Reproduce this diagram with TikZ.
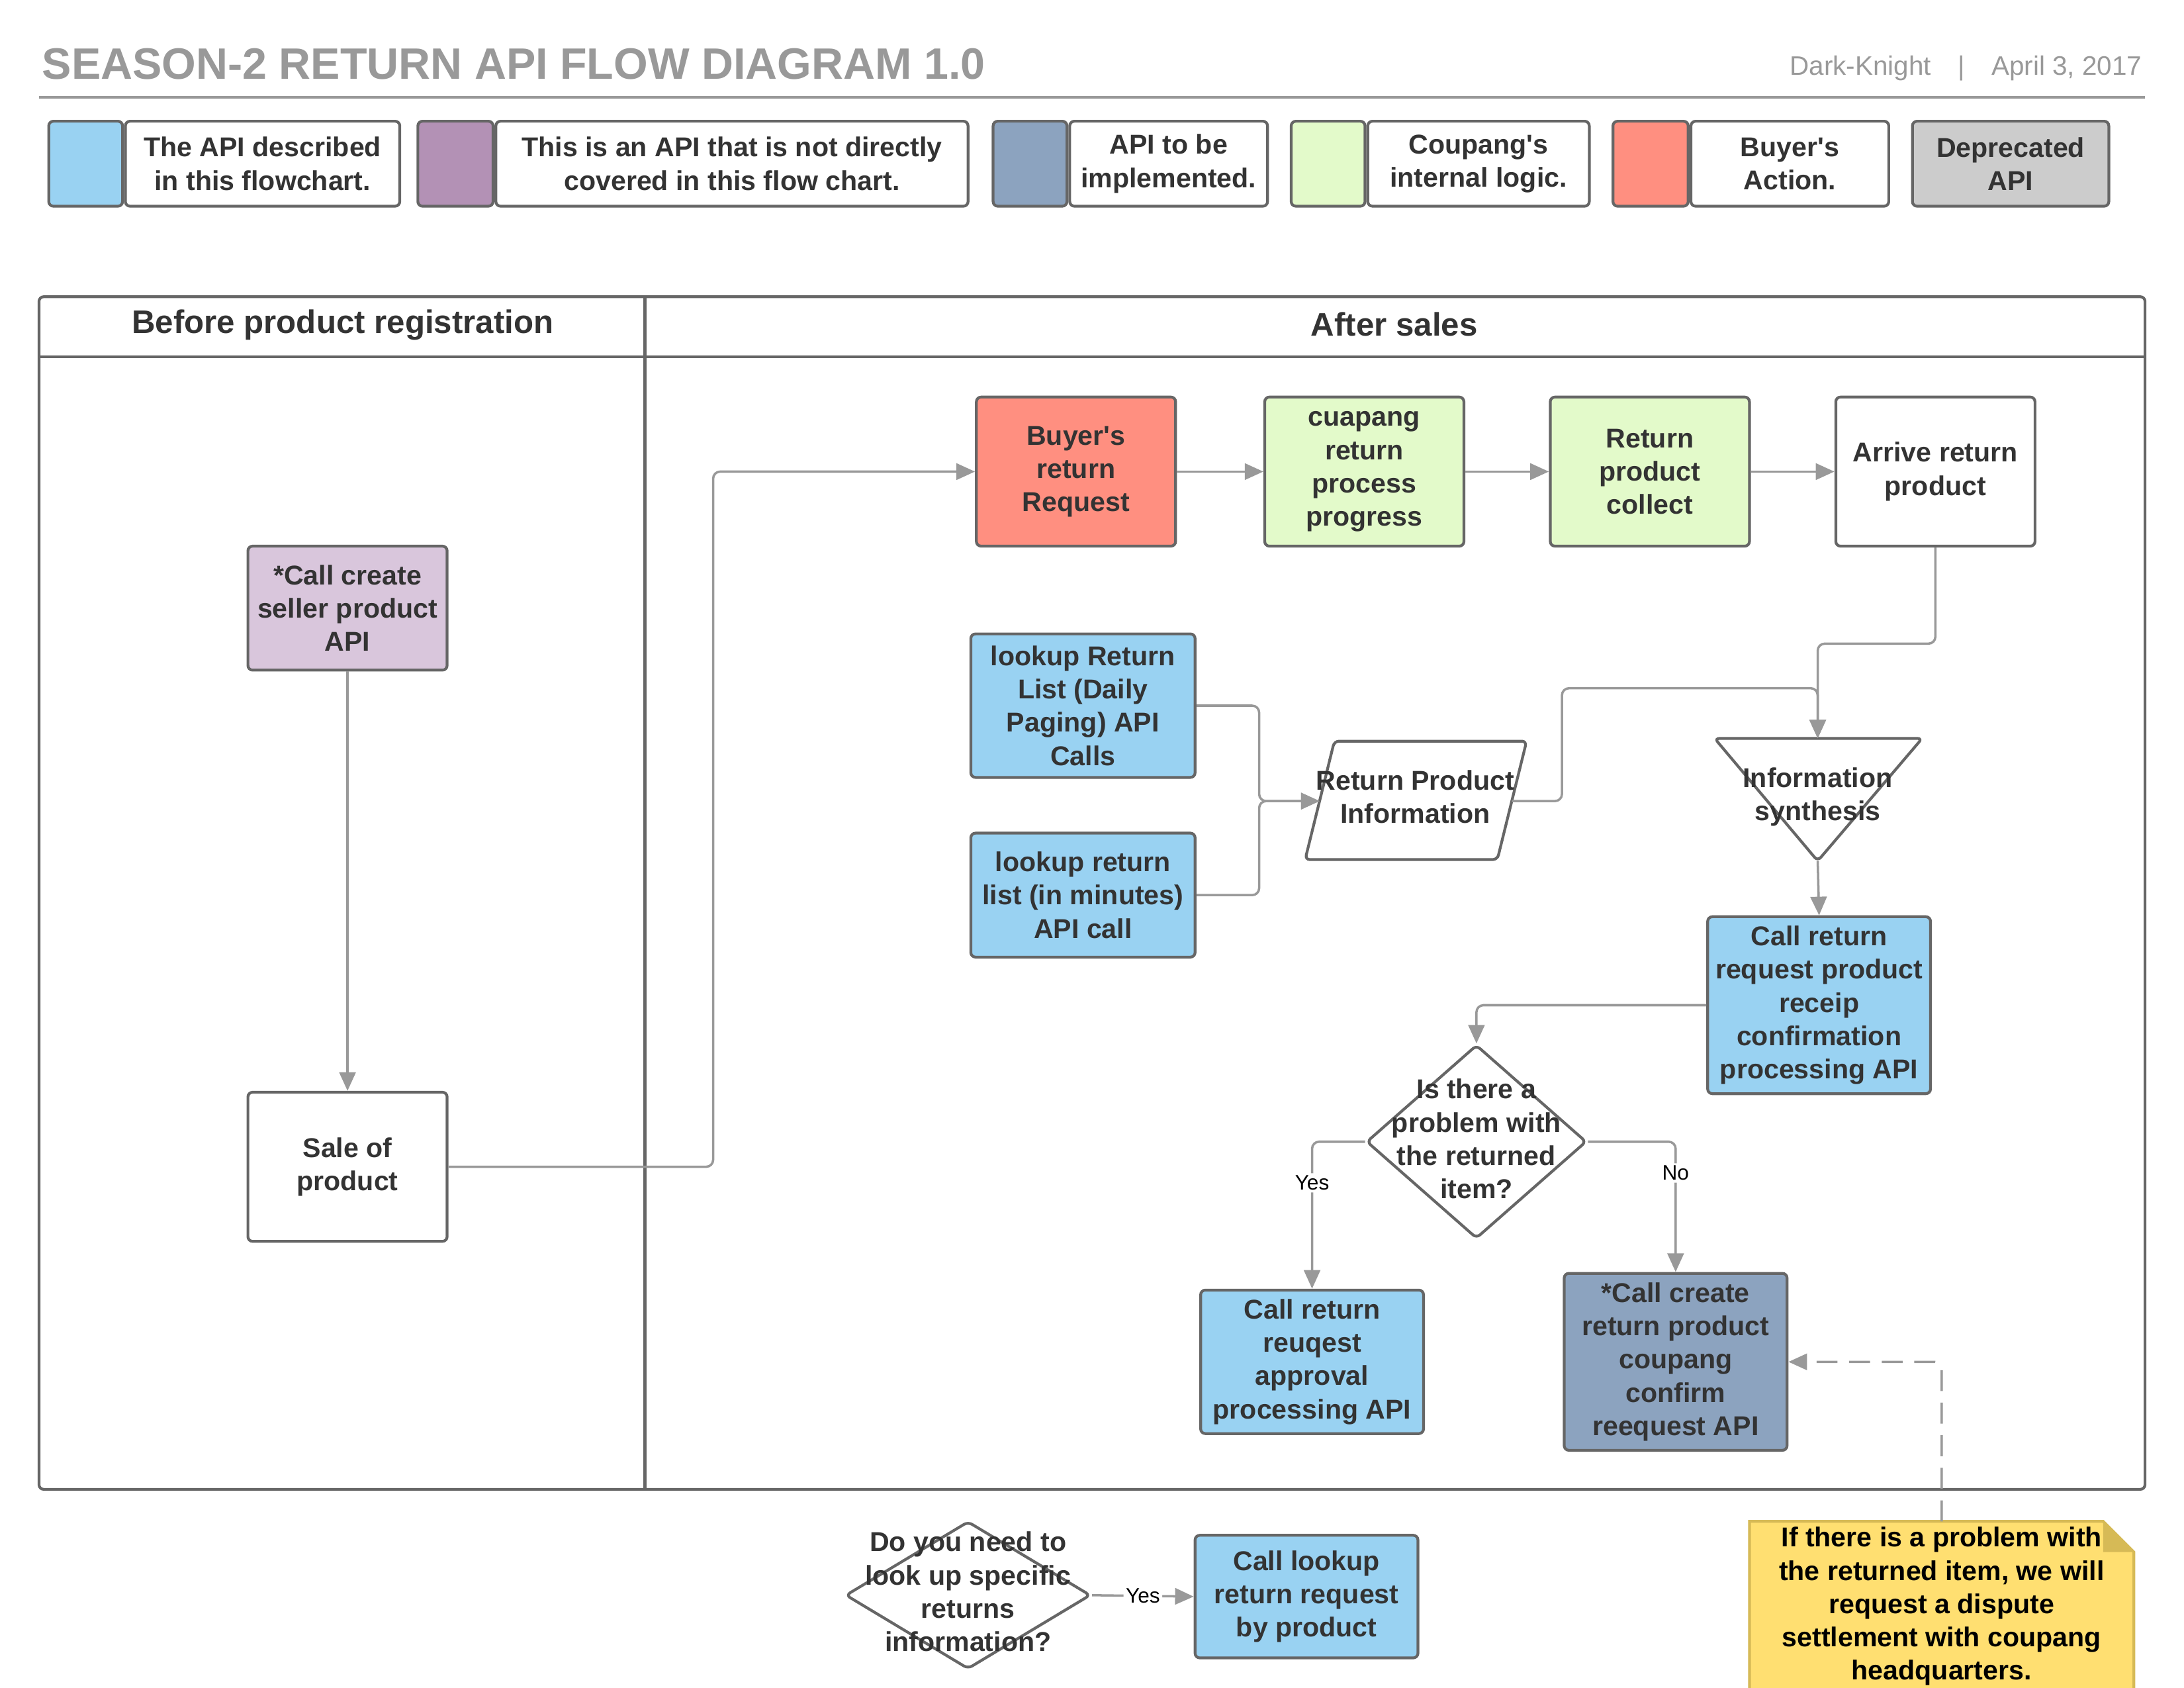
\documentclass[tikz,border=0pt]{standalone}
\usepackage{fontspec}
\setmainfont{Liberation Sans}
\usetikzlibrary{shapes.geometric,arrows.meta}

\newcommand{\dpx}{0.021046cm}
\newcommand{\boxfont}{\fontsize{11.7}{14.3}\selectfont\bfseries}
\definecolor{apiblue}{HTML}{99D2F2}
\definecolor{otherpurple}{HTML}{B391B5}
\definecolor{sellerpurple}{HTML}{D9C6DC}
\definecolor{todoslate}{HTML}{8CA3BF}
\definecolor{logicgreen}{HTML}{E3FACA}
\definecolor{buyerred}{HTML}{FF8F80}
\definecolor{deprgray}{HTML}{CCCCCC}
\definecolor{notefill}{HTML}{FFDF71}
\definecolor{noteedge}{HTML}{D6BA56}
\definecolor{edgegray}{HTML}{666666}
\definecolor{linegray}{HTML}{999999}
\definecolor{textdark}{HTML}{333333}

\begin{document}
\begin{tikzpicture}[x=\dpx,y=-\dpx,
  box/.style={draw=edgegray,line width=1.2pt,rounded corners=2pt,align=center,
    text=textdark,font=\boxfont,inner sep=1pt},
  stepbox/.style={box,minimum width=143*\dpx,minimum height=107*\dpx},
  apibox/.style={box,fill=apiblue,minimum width=160*\dpx},
  swatch/.style={box,minimum height=61*\dpx},
  legtext/.style={box,minimum height=61*\dpx,anchor=west},
  label/.style={align=center,text=textdark,font=\boxfont},
  shapeline/.style={draw=edgegray,line width=1.2pt,rounded corners=2pt},
  flow/.style={draw=linegray,line width=1pt,rounded corners=3pt,
    -{Triangle[length=8pt,width=7pt]}},
  answer/.style={fill=white,font=\fontsize{9}{10}\selectfont,inner sep=1pt}]

\useasboundingbox (0,0) rectangle (1568,1211.6);

\node[anchor=base west,text=linegray,font=\fontsize{18.9}{22}\selectfont\bfseries,inner sep=0pt] (title) at (30,57) {SEASON-2 RETURN API FLOW DIAGRAM 1.0};
\node[anchor=base east,text=linegray,font=\fontsize{11.5}{14}\selectfont,inner sep=0pt] (byline) at (1538,54) {Dark-Knight\quad|\quad April 3, 2017};
\draw[linegray,line width=1.2pt] (28,70) -- (1540,70);

\node[swatch,fill=apiblue,minimum width=53*\dpx] (legApi) at (61.5,117.5) {};
\node[legtext,minimum width=197*\dpx] (legApiText) at (legApi.east) {The API described\\in this flowchart.};
\node[swatch,fill=otherpurple,minimum width=54*\dpx] (legOther) at (327,117.5) {};
\node[legtext,minimum width=339*\dpx] (legOtherText) at (legOther.east) {This is an API that is not directly\\covered in this flow chart.};
\node[swatch,fill=todoslate,minimum width=53*\dpx] (legTodo) at (739.5,117.5) {};
\node[legtext,minimum width=142*\dpx] (legTodoText) at (legTodo.east) {API to be\\implemented.};
\node[swatch,fill=logicgreen,minimum width=53*\dpx] (legLogic) at (953.5,117.5) {};
\node[legtext,minimum width=159*\dpx] (legLogicText) at (legLogic.east) {Coupang\textquotesingle s\\internal logic.};
\node[swatch,fill=buyerred,minimum width=54*\dpx] (legBuyer) at (1185,117.5) {};
\node[legtext,minimum width=142*\dpx] (legBuyerText) at (legBuyer.east) {Buyer\textquotesingle s\\Action.};
\node[swatch,fill=deprgray,minimum width=141*\dpx] (legDepr) at (1443.5,117.5) {Deprecated\\API};

\draw[draw=edgegray,line width=1.2pt,rounded corners=2pt] (28,213) rectangle (1540,1069);
\draw[draw=edgegray,line width=1.2pt] (28,256) -- (1540,256);
\draw[draw=edgegray,line width=1.2pt] (463,213) -- (463,1069);
\node[label,font=\fontsize{14}{16}\selectfont\bfseries] (laneBefore) at (246,233) {Before product registration};
\node[label,font=\fontsize{14}{16}\selectfont\bfseries] (laneAfter) at (1001,233) {After sales};

\node[stepbox,fill=sellerpurple,minimum height=89*\dpx] (seller) at (249.5,436.5) {*Call create\\seller product\\API};
\node[stepbox] (sale) at (249.5,837.5) {Sale of\\product};

\node[stepbox,fill=buyerred] (buyer) at (772.5,338.5) {Buyer\textquotesingle s\\return\\Request};
\node[stepbox,fill=logicgreen] (progress) at (979.5,338.5) {cuapang\\return\\process\\progress};
\node[stepbox,fill=logicgreen] (collect) at (1184.5,338.5) {Return\\product\\collect};
\node[stepbox] (arrive) at (1389.5,338.5) {Arrive return\\product};

\node[apibox,minimum width=161*\dpx,minimum height=103*\dpx] (daily) at (777.5,506.5) {lookup Return\\List (Daily\\Paging) API\\Calls};
\node[apibox,minimum width=161*\dpx,minimum height=89*\dpx] (minutes) at (777.5,642.5) {lookup return\\list (in minutes)\\API call};

\draw[shapeline] (958,532) -- (1096,532) -- (1075,617) -- (937,617) -- cycle;
\node[label] (rpi) at (1016,572) {Return Product\\Information};
\coordinate (rpiIn) at (947.4,575);
\coordinate (rpiOut) at (1085.4,575);

\draw[shapeline] (1231,530) -- (1380,530) -- (1305,618) -- cycle;
\node[label] (info) at (1305,572) {Information\\synthesis};
\coordinate (infoTop) at (1305,530);
\coordinate (infoBot) at (1305,618);

\node[apibox,minimum height=127*\dpx] (receipt) at (1306,721.5) {Call return\\request product\\receip\\confirmation\\processing API};

\node[draw=edgegray,line width=1.2pt,rounded corners=2pt,diamond,inner sep=0pt,minimum width=158*\dpx,minimum height=139*\dpx] (problem) at (1060,819.5) {};
\node[label] (problemText) at (1060,817.5) {Is there a\\problem with\\the returned\\item?};

\node[apibox,minimum height=103*\dpx] (approve) at (942,977.5) {Call return\\reuqest\\approval\\processing API};
\node[apibox,fill=todoslate,minimum height=127*\dpx] (dispute) at (1203,977.5) {*Call create\\return product\\coupang\\confirm\\reequest API};

\fill[notefill] (1256,1092) -- (1510,1092) -- (1532,1114) -- (1532,1230) -- (1256,1230) -- cycle;
\draw[noteedge,line width=1.2pt] (1532,1230) -- (1532,1114) -- (1510,1092) -- (1256,1092) -- (1256,1230);
\fill[noteedge] (1510,1092) -- (1510,1114) -- (1532,1114) -- cycle;
\node[label,text=black] (note) at (1394,1153) {If there is a problem with\\the returned item, we will\\request a dispute\\settlement with coupang\\headquarters.};
\coordinate (noteTop) at (1394,1092);

\node[draw=edgegray,line width=1.2pt,rounded corners=2pt,diamond,inner sep=0pt,minimum width=176*\dpx,minimum height=106*\dpx] (lookupAsk) at (695,1145) {};
\node[label] (lookupAskText) at (695,1142.5) {Do you need to\\look up specific\\returns\\information?};
\node[apibox,minimum height=88*\dpx] (byproduct) at (938,1146) {Call lookup\\return request\\by product};

\draw[flow] (seller.south) -- (sale.north);
\draw[flow] (sale.east) -- ++(190,0) |- (buyer.west);
\draw[flow] (buyer.east) -- (progress.west);
\draw[flow] (progress.east) -- (collect.west);
\draw[flow] (collect.east) -- (arrive.west);
\draw[flow] (arrive.south) -- ++(0,69) -| (infoTop);
\draw[flow] (daily.east) -- ++(45,0) |- (rpiIn);
\draw[flow] (minutes.east) -- ++(45,0) |- (rpiIn);
\draw[flow] (rpiOut) -- ++(36,0) -- ++(0,-81) -| (infoTop);
\draw[flow] (infoBot) -- (receipt.north);
\draw[flow] (receipt.west) -| (problem.north);
\draw[flow] (problem.west) -| (approve.north) node[answer,pos=0.64] {Yes};
\draw[flow] (problem.east) -| (dispute.north) node[answer,pos=0.62] {No};
\draw[flow,dash pattern=on 9pt off 5pt] (noteTop) |- (dispute.east);
\draw[flow] (lookupAsk.east) -- (byproduct.west) node[answer,midway] {Yes};

\end{tikzpicture}
\end{document}
